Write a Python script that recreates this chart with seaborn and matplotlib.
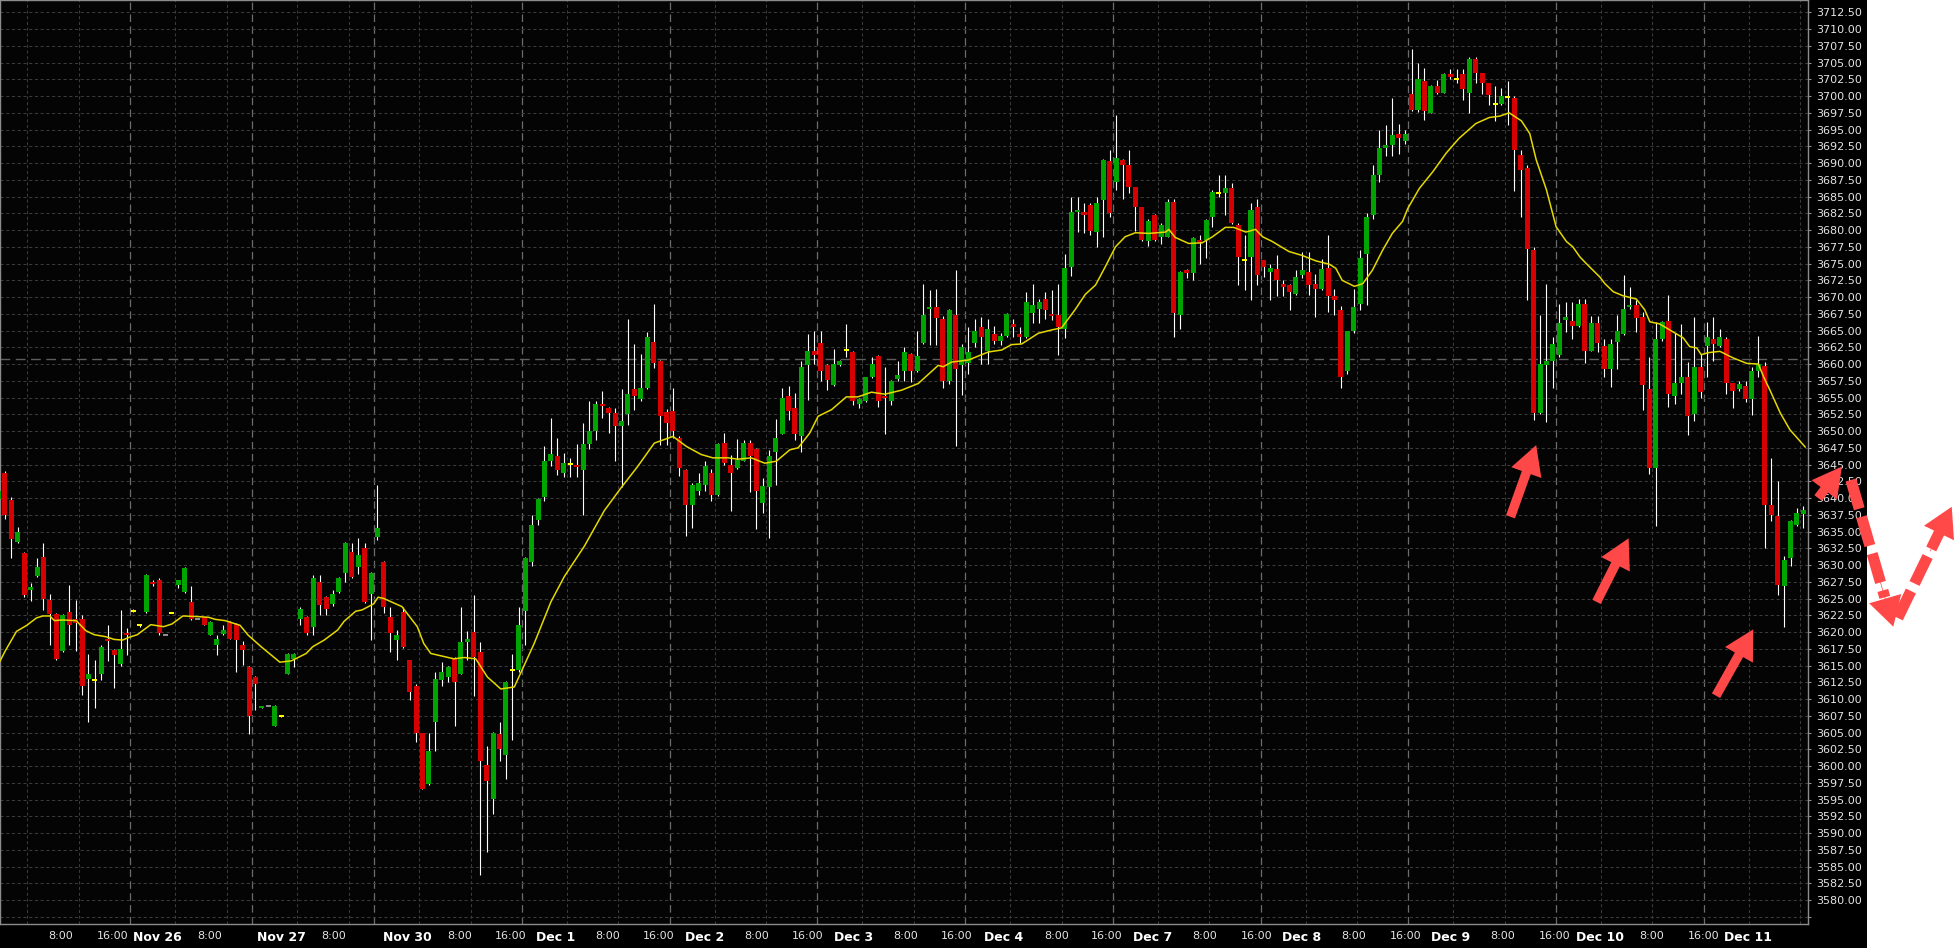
import matplotlib
matplotlib.use('Agg')

import numpy as np
import pandas as pd
import matplotlib.pyplot as plt
from matplotlib.patches import Rectangle
import seaborn as sns

# Hourly bars, Nov 25 (part) to Dec 11 (part), one value per bar
opens = [3639.9, 3643.7, 3639.7, 3633.4, 3631.8, 3626.3, 3628.3, 3631.2, 3624.8, 3622.7,
         3617.1, 3623.0, 3621.9, 3621.9, 3613.0, 3612.9, 3613.8, 3619.0, 3617.3, 3615.3,
         3619.8, 3623.2, 3621.0, 3623.0, 3627.5, 3627.8, 3619.6, 3622.9, 3627.0, 3626.0,
         3624.5, 3621.9, 3622.2, 3619.6, 3618.1, 3619.7, 3621.5, 3621.2, 3618.1, 3614.8,
         3613.3, 3608.6, 3608.9, 3606.0, 3607.4, 3613.8, 3616.0, 3622.0, 3622.3, 3620.8,
         3627.5, 3625.2, 3624.2, 3626.0, 3628.8, 3631.9, 3629.7, 3632.6, 3625.7, 3634.2,
         3630.5, 3622.2, 3618.8, 3623.0, 3615.8, 3612.0, 3604.9, 3597.3, 3606.6, 3612.8,
         3613.3, 3616.0, 3613.8, 3618.5, 3620.0, 3617.0, 3600.1, 3595.1, 3604.8, 3601.6,
         3614.4, 3614.4, 3623.1, 3630.5, 3636.7, 3640.1, 3645.5, 3646.3, 3643.8, 3645.1,
         3644.9, 3644.2, 3648.1, 3650.0, 3654.0, 3653.5, 3652.7, 3650.8, 3652.6, 3656.3,
         3654.8, 3656.5, 3663.3, 3660.5, 3652.9, 3653.0, 3649.0, 3644.2, 3639.0, 3641.1,
         3641.9, 3643.8, 3640.4, 3648.2, 3644.9, 3644.5, 3645.6, 3648.2, 3647.3, 3639.3,
         3641.6, 3646.8, 3649.6, 3655.2, 3653.5, 3649.3, 3659.8, 3662.0, 3663.2, 3659.9,
         3656.8, 3659.8, 3662.1, 3661.8, 3654.0, 3654.5, 3658.1, 3661.2, 3655.3, 3654.5,
         3657.8, 3659.0, 3661.5, 3658.9, 3663.1, 3668.2, 3668.5, 3666.7, 3657.5, 3667.3,
         3659.8, 3660.1, 3663.1, 3665.5, 3661.9, 3664.5, 3663.4, 3664.2, 3666.0, 3664.5,
         3664.1, 3667.6, 3668.2, 3669.7, 3667.5, 3667.3, 3665.2, 3674.5, 3682.7, 3682.7,
         3683.7, 3679.7, 3684.5, 3690.3, 3687.1, 3690.5, 3689.7, 3686.4, 3683.4, 3678.3,
         3682.3, 3679.0, 3679.0, 3684.2, 3667.3, 3674.0, 3673.6, 3678.5, 3678.5, 3681.9,
         3685.6, 3685.6, 3686.3, 3680.8, 3675.5, 3676.0, 3683.5, 3675.5, 3673.8, 3674.2,
         3671.9, 3671.8, 3670.5, 3673.3, 3673.7, 3671.9, 3671.2, 3674.4, 3670.1, 3668.1,
         3658.9, 3664.9, 3668.9, 3676.4, 3682.2, 3688.2, 3692.3, 3692.7, 3694.4, 3693.3,
         3700.3, 3697.9, 3702.2, 3697.5, 3701.5, 3700.5, 3703.3, 3702.5, 3703.3, 3700.5,
         3705.5, 3703.4, 3701.9, 3698.8, 3698.8, 3699.9, 3699.7, 3691.2, 3689.2, 3677.0,
         3652.7, 3659.9, 3660.5, 3661.3, 3666.6, 3666.4, 3665.7, 3669.0, 3662.0, 3666.2,
         3662.7, 3659.3, 3663.3, 3664.5, 3668.6, 3668.8, 3667.0, 3656.3, 3644.5, 3663.7,
         3666.5, 3655.3, 3657.1, 3658.0, 3652.5, 3659.5, 3662.7, 3663.7, 3662.7, 3663.7,
         3657.1, 3656.3, 3656.7, 3654.8, 3659.0, 3659.7, 3638.9, 3637.3, 3626.8, 3631.1,
         3636.0, 3637.6]
highs = [3641.5, 3644.0, 3640.1, 3635.7, 3632.0, 3627.3, 3631.1, 3633.3, 3625.7, 3622.8,
         3622.7, 3627.0, 3624.8, 3622.6, 3616.7, 3615.8, 3618.1, 3621.1, 3617.5, 3623.3,
         3620.6, 3623.4, 3621.2, 3628.6, 3627.8, 3628.0, 3619.6, 3623.0, 3627.8, 3629.7,
         3626.8, 3621.9, 3622.3, 3621.6, 3619.5, 3621.1, 3621.7, 3621.3, 3618.6, 3614.9,
         3613.5, 3608.9, 3608.9, 3609.1, 3607.5, 3616.8, 3616.8, 3623.8, 3622.4, 3628.5,
         3628.5, 3625.4, 3626.3, 3628.2, 3633.4, 3633.3, 3634.0, 3633.3, 3629.0, 3642.0,
         3630.6, 3623.8, 3620.3, 3623.8, 3615.9, 3612.2, 3605.0, 3605.0, 3614.0, 3615.6,
         3614.9, 3616.2, 3623.7, 3620.1, 3625.5, 3618.5, 3603.0, 3605.1, 3606.6, 3612.7,
         3616.7, 3623.8, 3631.2, 3637.5, 3640.0, 3647.8, 3651.9, 3648.9, 3646.7, 3646.0,
         3648.1, 3651.2, 3654.5, 3654.5, 3656.0, 3653.6, 3653.4, 3656.3, 3666.7, 3663.0,
         3661.5, 3664.8, 3669.0, 3660.6, 3653.3, 3656.4, 3649.2, 3644.3, 3642.3, 3643.7,
         3645.5, 3644.4, 3648.2, 3649.7, 3646.4, 3648.8, 3648.7, 3648.7, 3647.4, 3643.0,
         3647.1, 3651.8, 3656.4, 3656.7, 3655.7, 3660.5, 3664.5, 3664.9, 3664.9, 3660.0,
         3662.2, 3660.6, 3666.0, 3661.9, 3654.9, 3658.1, 3661.1, 3661.3, 3659.6, 3657.6,
         3660.5, 3662.5, 3661.6, 3665.0, 3672.0, 3671.1, 3671.2, 3667.1, 3668.2, 3674.0,
         3663.0, 3665.5, 3666.7, 3667.0, 3666.7, 3665.7, 3664.7, 3667.6, 3666.7, 3665.6,
         3670.7, 3672.0, 3669.7, 3670.7, 3671.0, 3672.0, 3676.4, 3684.9, 3684.9, 3684.1,
         3684.1, 3684.9, 3690.6, 3691.9, 3697.2, 3690.6, 3692.0, 3686.5, 3683.5, 3681.6,
         3682.4, 3681.0, 3684.7, 3684.7, 3673.9, 3674.2, 3679.0, 3679.3, 3681.6, 3686.0,
         3688.2, 3688.2, 3687.0, 3681.0, 3679.3, 3684.1, 3684.7, 3675.6, 3675.0, 3676.3,
         3672.5, 3672.0, 3674.0, 3676.7, 3676.7, 3673.4, 3675.7, 3679.3, 3671.2, 3668.6,
         3665.0, 3671.2, 3677.0, 3682.5, 3689.7, 3694.9, 3695.7, 3699.7, 3695.9, 3695.0,
         3707.0, 3705.0, 3704.2, 3701.6, 3702.4, 3703.4, 3704.1, 3704.1, 3704.1, 3705.8,
         3705.8, 3703.5, 3702.0, 3701.5, 3701.2, 3702.2, 3700.0, 3691.9, 3689.7, 3677.4,
         3667.3, 3671.9, 3664.0, 3669.0, 3669.3, 3669.3, 3669.7, 3669.7, 3667.1, 3667.1,
         3663.7, 3663.7, 3667.3, 3673.3, 3671.5, 3669.6, 3667.8, 3661.1, 3666.3, 3666.4,
         3670.3, 3664.6, 3666.0, 3660.3, 3667.0, 3661.5, 3666.3, 3667.0, 3665.2, 3664.0,
         3657.2, 3657.4, 3657.5, 3659.6, 3664.2, 3660.3, 3646.0, 3642.5, 3631.3, 3636.7,
         3638.5, 3638.8]
lows = [3639.5, 3636.9, 3631.0, 3633.3, 3625.3, 3624.7, 3628.2, 3623.3, 3618.0, 3615.8,
        3617.0, 3618.0, 3617.2, 3610.6, 3606.6, 3608.7, 3612.9, 3615.7, 3611.7, 3615.0,
        3616.6, 3623.0, 3620.8, 3622.9, 3626.9, 3619.6, 3619.6, 3622.8, 3626.6, 3625.9,
        3621.8, 3621.9, 3621.0, 3619.5, 3616.6, 3619.5, 3618.9, 3614.1, 3615.1, 3604.8,
        3608.4, 3608.6, 3608.9, 3605.9, 3607.3, 3613.7, 3614.8, 3621.1, 3619.6, 3619.6,
        3622.5, 3622.5, 3623.9, 3625.9, 3627.4, 3628.0, 3628.7, 3624.4, 3618.8, 3633.8,
        3622.9, 3617.0, 3615.8, 3617.6, 3609.9, 3603.6, 3596.5, 3597.2, 3602.2, 3611.9,
        3612.6, 3605.9, 3613.7, 3615.8, 3610.4, 3583.7, 3587.2, 3592.9, 3600.7, 3598.1,
        3603.9, 3614.0, 3618.1, 3629.8, 3636.0, 3639.6, 3644.8, 3643.5, 3643.2, 3643.2,
        3643.2, 3637.4, 3647.3, 3648.7, 3652.0, 3649.7, 3645.6, 3641.6, 3650.9, 3653.2,
        3654.5, 3656.3, 3659.4, 3647.9, 3647.9, 3649.0, 3643.3, 3634.4, 3635.6, 3640.5,
        3641.0, 3639.6, 3640.3, 3645.0, 3638.1, 3644.3, 3645.5, 3640.9, 3635.4, 3637.7,
        3634.1, 3641.9, 3649.5, 3651.7, 3648.7, 3646.9, 3654.6, 3660.0, 3657.4, 3656.1,
        3656.7, 3659.7, 3661.1, 3653.9, 3653.4, 3654.4, 3657.9, 3653.6, 3649.5, 3653.9,
        3657.5, 3657.5, 3657.3, 3658.8, 3663.0, 3662.8, 3662.8, 3656.4, 3657.0, 3647.7,
        3655.4, 3658.5, 3662.5, 3660.0, 3660.0, 3663.0, 3662.8, 3664.1, 3664.0, 3663.2,
        3663.9, 3666.2, 3666.2, 3666.7, 3666.6, 3661.4, 3663.9, 3673.2, 3679.7, 3679.5,
        3679.3, 3677.4, 3678.9, 3681.9, 3686.0, 3684.7, 3685.6, 3679.9, 3678.3, 3677.6,
        3678.3, 3677.9, 3678.9, 3664.1, 3665.3, 3672.9, 3672.6, 3674.9, 3675.9, 3680.4,
        3685.0, 3682.3, 3680.9, 3671.8, 3671.0, 3669.5, 3671.8, 3673.0, 3669.5, 3670.2,
        3670.2, 3668.1, 3670.3, 3672.9, 3670.3, 3667.0, 3671.0, 3667.7, 3667.3, 3656.4,
        3658.5, 3664.6, 3668.0, 3668.8, 3681.7, 3687.1, 3691.1, 3691.1, 3691.4, 3692.8,
        3697.7, 3697.6, 3696.5, 3697.4, 3700.3, 3700.4, 3702.5, 3702.0, 3699.4, 3697.4,
        3701.9, 3700.3, 3698.7, 3696.3, 3698.6, 3695.7, 3685.9, 3681.9, 3669.5, 3651.7,
        3652.6, 3651.4, 3656.4, 3661.0, 3664.8, 3663.8, 3665.6, 3660.2, 3661.9, 3661.8,
        3658.1, 3656.6, 3659.2, 3664.3, 3668.2, 3664.8, 3653.1, 3643.6, 3635.8, 3663.5,
        3653.6, 3654.0, 3655.6, 3649.4, 3651.5, 3655.0, 3658.1, 3660.4, 3662.5, 3655.5,
        3653.4, 3656.0, 3654.4, 3652.4, 3658.1, 3632.6, 3636.6, 3625.5, 3620.7, 3629.9,
        3635.9, 3635.6]
closes = [3641.0, 3637.4, 3633.9, 3635.0, 3625.5, 3626.7, 3629.7, 3625.0, 3622.7, 3616.0,
          3622.6, 3621.1, 3621.4, 3612.0, 3613.7, 3612.9, 3617.8, 3618.6, 3616.6, 3617.5,
          3619.5, 3623.2, 3621.0, 3628.5, 3627.2, 3619.8, 3619.6, 3622.9, 3627.8, 3629.6,
          3622.0, 3621.9, 3621.1, 3621.5, 3619.0, 3620.3, 3619.0, 3618.8, 3617.3, 3607.4,
          3612.3, 3608.9, 3608.9, 3609.0, 3607.4, 3616.7, 3616.7, 3623.5, 3619.8, 3628.1,
          3624.1, 3623.4, 3625.7, 3628.1, 3633.3, 3628.2, 3631.5, 3624.5, 3628.8, 3635.5,
          3623.8, 3619.8, 3619.6, 3617.7, 3611.1, 3605.0, 3596.6, 3602.3, 3613.0, 3614.0,
          3614.8, 3612.6, 3618.5, 3619.0, 3616.3, 3600.8, 3597.8, 3605.0, 3602.5, 3612.6,
          3614.4, 3621.1, 3631.1, 3636.0, 3639.9, 3645.5, 3646.6, 3644.2, 3645.2, 3645.1,
          3644.7, 3648.1, 3650.0, 3654.0, 3653.7, 3652.7, 3650.8, 3651.5, 3655.5, 3655.3,
          3656.4, 3664.1, 3660.1, 3652.3, 3651.2, 3650.0, 3644.5, 3638.9, 3641.9, 3642.3,
          3644.8, 3640.4, 3648.1, 3645.3, 3643.8, 3645.7, 3648.2, 3646.3, 3641.1, 3641.8,
          3646.3, 3649.0, 3655.0, 3653.0, 3649.6, 3659.6, 3662.0, 3661.3, 3659.0, 3657.6,
          3660.0, 3660.5, 3662.1, 3654.5, 3654.8, 3658.0, 3660.0, 3654.5, 3655.0, 3657.5,
          3658.3, 3661.8, 3658.9, 3661.2, 3667.3, 3668.5, 3666.8, 3657.4, 3668.1, 3659.3,
          3662.5, 3661.8, 3665.0, 3664.1, 3665.2, 3663.4, 3664.2, 3667.5, 3665.6, 3664.1,
          3669.3, 3668.8, 3669.3, 3668.1, 3667.1, 3665.6, 3674.4, 3682.7, 3683.0, 3682.3,
          3679.8, 3684.1, 3690.5, 3682.5, 3690.7, 3689.7, 3686.5, 3683.5, 3678.5, 3681.3,
          3678.5, 3680.8, 3684.2, 3667.6, 3673.8, 3673.6, 3678.8, 3678.3, 3681.5, 3685.7,
          3685.6, 3686.3, 3681.1, 3676.0, 3675.5, 3683.0, 3673.3, 3674.5, 3674.4, 3672.5,
          3671.5, 3670.8, 3673.0, 3674.0, 3671.8, 3671.2, 3674.2, 3670.1, 3669.6, 3658.1,
          3664.9, 3668.5, 3675.9, 3681.9, 3688.2, 3692.3, 3692.7, 3694.2, 3693.8, 3694.4,
          3697.9, 3702.5, 3697.8, 3701.5, 3700.5, 3703.3, 3702.8, 3702.5, 3701.1, 3705.5,
          3703.5, 3702.0, 3700.2, 3698.8, 3700.0, 3699.9, 3691.9, 3688.9, 3677.1, 3652.7,
          3660.0, 3660.5, 3663.0, 3666.2, 3667.0, 3665.7, 3669.0, 3662.0, 3666.2, 3663.1,
          3659.3, 3663.0, 3664.9, 3668.2, 3668.8, 3666.8, 3656.8, 3644.5, 3663.7, 3666.3,
          3655.6, 3657.1, 3658.0, 3652.3, 3659.5, 3655.8, 3664.0, 3663.0, 3664.0, 3657.1,
          3656.0, 3657.0, 3654.8, 3659.0, 3660.0, 3638.9, 3637.5, 3627.0, 3630.8, 3636.6,
          3637.7, 3638.2]

# yellow moving average line (bar position, price)
ma_bar = [0.2, 1.0, 2.8, 4.4, 5.9, 6.9, 8.0, 8.7, 10.0, 12.1,
          13.6, 14.9, 16.7, 18.0, 19.3, 20.3, 21.6, 23.7, 25.7, 27.0,
          28.7, 31.1, 32.7, 33.7, 35.3, 37.6, 38.9, 40.9, 43.8, 45.6,
          47.9, 48.9, 50.7, 52.8, 53.8, 55.6, 56.6, 58.4, 59.1, 60.0,
          62.8, 65.2, 66.2, 67.3, 70.9, 72.5, 74.3, 76.1, 78.2, 80.3,
          81.3, 83.4, 86.0, 88.1, 91.2, 94.3, 96.9, 99.5, 102.1, 105.0,
          107.1, 109.4, 111.2, 113.6, 115.1, 117.2, 119.3, 121.1, 123.2, 124.5,
          126.3, 127.6, 129.7, 132.0, 133.8, 135.9, 138.0, 140.6, 143.2, 146.3,
          147.1, 148.4, 151.0, 154.1, 156.2, 157.7, 159.3, 161.9, 164.0, 165.5,
          167.6, 169.2, 170.8, 172.3, 173.9, 175.4, 177.0, 179.1, 181.7, 182.2,
          183.2, 185.3, 187.4, 189.0, 191.0, 192.3, 194.2, 195.7, 196.8, 198.3,
          200.9, 203.0, 205.1, 207.2, 208.2, 209.2, 211.1, 212.4, 213.9, 215.5,
          217.0, 218.6, 219.4, 221.2, 223.3, 225.4, 227.4, 230.0, 232.1, 233.7,
          235.2, 237.1, 238.4, 239.4, 241.0, 242.5, 244.1, 245.1, 246.2, 247.2,
          249.3, 250.1, 251.4, 252.9, 255.0, 256.3, 257.1, 258.6, 260.2, 262.3,
          263.3, 264.4, 265.1, 266.2, 268.0, 270.1, 272.2, 274.0, 274.8, 275.8,
          277.4, 278.9, 281.3]
ma_val = [3615.6, 3617.1, 3620.1, 3621.0, 3622.1, 3622.4, 3622.4, 3621.7, 3621.8, 3621.7,
          3620.2, 3619.6, 3619.3, 3618.9, 3618.8, 3619.2, 3619.6, 3621.1, 3620.8, 3621.2,
          3622.4, 3622.3, 3622.2, 3621.9, 3621.7, 3621.0, 3619.5, 3617.8, 3615.5, 3615.7,
          3616.8, 3617.8, 3618.8, 3620.3, 3621.6, 3623.1, 3623.3, 3624.2, 3625.2, 3625.0,
          3623.8, 3620.8, 3618.3, 3616.8, 3616.0, 3616.2, 3616.0, 3613.3, 3611.5, 3611.8,
          3613.9, 3618.3, 3624.5, 3628.3, 3632.8, 3638.1, 3641.5, 3644.7, 3648.2, 3649.2,
          3647.7, 3646.5, 3646.0, 3646.0, 3645.8, 3646.0, 3645.2, 3645.5, 3647.2, 3647.5,
          3649.7, 3652.2, 3653.2, 3655.1, 3655.1, 3655.8, 3655.5, 3656.1, 3657.1, 3659.8,
          3659.6, 3660.3, 3660.6, 3661.8, 3662.1, 3662.9, 3663.0, 3664.6, 3665.1, 3665.4,
          3668.1, 3670.4, 3671.8, 3674.5, 3677.5, 3679.0, 3679.6, 3679.5, 3679.7, 3680.1,
          3678.9, 3678.0, 3678.1, 3679.0, 3680.4, 3680.4, 3679.7, 3680.1, 3679.0, 3678.3,
          3676.8, 3676.2, 3675.4, 3674.9, 3674.3, 3672.5, 3671.6, 3672.0, 3674.0, 3677.0,
          3679.5, 3681.3, 3683.2, 3686.2, 3688.7, 3691.5, 3693.7, 3695.9, 3696.8, 3697.0,
          3697.5, 3696.3, 3694.4, 3690.5, 3686.0, 3680.5, 3678.3, 3677.5, 3676.0, 3675.0,
          3673.0, 3672.0, 3670.8, 3670.2, 3669.7, 3668.1, 3666.3, 3666.0, 3665.1, 3663.9,
          3662.6, 3662.4, 3661.4, 3661.7, 3661.9, 3660.9, 3660.1, 3660.0, 3658.1, 3656.1,
          3652.7, 3650.2, 3647.6]

# session breaks (bar positions) and time-axis labels
session_starts = [-2.5, 20.5, 39.5, 58.5, 81.5, 104.5, 127.5, 150.5, 173.5, 196.5, 219.5, 242.5, 265.5]
tick_pos = [9.6, 17.7, 24.7, 32.8, 44.0, 52.2, 63.6, 71.8, 79.8, 86.8, 94.9, 102.8,
            110.0, 118.0, 125.9, 133.1, 141.3, 149.2, 156.5, 164.7, 172.5, 179.7,
            187.8, 195.9, 202.9, 211.0, 219.0, 226.1, 234.2, 242.2, 249.3, 257.4, 265.4, 272.4]
tick_text = ['8:00', '16:00', 'Nov 26', '8:00', 'Nov 27', '8:00', 'Nov 30', '8:00', '16:00',
             'Dec 1', '8:00', '16:00', 'Dec 2', '8:00', '16:00', 'Dec 3', '8:00', '16:00',
             'Dec 4', '8:00', '16:00', 'Dec 7', '8:00', '16:00', 'Dec 8', '8:00', '16:00',
             'Dec 9', '8:00', '16:00', 'Dec 10', '8:00', '16:00', 'Dec 11']
ref_price = 3660.75

# hand-drawn red arrows (bar position, price)
arrow_tails = [(235.4, 3637.2), (248.8, 3624.5), (267.4, 3610.5), (283.3, 3640.0)]
arrow_tips = [(239.4, 3647.9), (253.8, 3634.0), (273.2, 3620.4), (287.0, 3644.7)]
dashed_from = [(288.4, 3642.7), (295.7, 3622.1)]
dashed_to = [(295.0, 3620.8), (304.1, 3638.7)]

sns.set_theme(style='dark')
plt.rcParams['font.family'] = ['DejaVu Sans']

fig = plt.figure(figsize=(19.54, 9.48), dpi=100, facecolor='white')
fig.add_artist(Rectangle((0, 0), 1867 / 1954, 1, transform=fig.transFigure,
                         facecolor='black', edgecolor='none', zorder=-10))
ax = fig.add_axes([0, 24 / 948, 1808 / 1954, 924 / 948])
ax.set_facecolor('#040404')

# grid
for s in session_starts:
    ax.axvline(s, color='#6c6c6c', lw=0.9, ls=(0, (6, 3.5)), zorder=0.5)
    ax.axvline(s + 7, color='#3a3a3a', lw=0.75, ls=(0, (3, 2.5)), zorder=0.5)
    ax.axvline(s + 15, color='#3a3a3a', lw=0.75, ls=(0, (3, 2.5)), zorder=0.5)
ax.axhline(ref_price, color='#5e5e5e', lw=1.0, ls=(0, (7, 4)), zorder=0.6)

# candles
df = pd.DataFrame({'open': opens, 'high': highs, 'low': lows, 'close': closes})
df['bar'] = np.arange(len(df))
colour = np.where(df['close'] > df['open'], '#00a400', '#d60000')
colour = np.where(df['close'] == df['open'], '#ffff00', colour)
colour = np.where(df['high'] == df['low'], '#8e8e8e', colour)
min_h = 0.3
body_h = (df['close'] - df['open']).abs()
body_lo = np.where(body_h < min_h, (df['open'] + df['close']) / 2 - min_h / 2,
                   df[['open', 'close']].min(axis=1))
body_h = np.maximum(body_h, min_h)

ax.vlines(df['bar'], df['low'], df['high'], color='white', lw=0.8, zorder=2)
ax.bar(df['bar'], body_h, bottom=body_lo, width=0.78, color=colour, linewidth=0, zorder=3)

sns.lineplot(x=ma_bar, y=ma_val, ax=ax, color='#e4d800', linewidth=1.1, zorder=4)

ax.set_xlim(0.23, 281.72)
ax.set_ylim(3576.42, 3714.34)

yt = np.arange(3577.5, 3713.0, 2.5)
ax.set_yticks(yt)
ax.set_yticklabels(['' if v < 3579 else f'{v:.2f}' for v in yt])
ax.yaxis.tick_right()
ax.grid(True, axis='y', color='#3a3a3a', lw=0.75, ls=(0, (3, 2.5)))
ax.grid(False, axis='x')
ax.set_axisbelow(True)
ax.tick_params(axis='y', length=2.5, width=0.8, color='#909090', labelcolor='#e4e4e4',
               labelsize=8, pad=3.5)

ax.set_xticks(tick_pos)
ax.set_xticklabels(tick_text)
ax.tick_params(axis='x', length=0, pad=5, labelcolor='#e4e4e4', labelsize=8)
for lab in ax.get_xticklabels():
    if not lab.get_text()[0].isdigit():
        lab.set_fontweight('bold')
        lab.set_fontsize(9)
        lab.set_color('white')

for side in ['top', 'bottom', 'left', 'right']:
    ax.spines[side].set_color('#8c8c8c')
    ax.spines[side].set_linewidth(1.0)

# red annotation arrows
red = '#ff4848'
head = 'simple,head_length=2.1,head_width=2.3,tail_width=0.68'
for tail, tip in zip(arrow_tails, arrow_tips):
    ax.annotate('', xy=tip, xytext=tail, annotation_clip=False, zorder=10,
                arrowprops=dict(arrowstyle=head, mutation_scale=10, color=red, lw=0,
                                shrinkA=0, shrinkB=0))
for a, b in zip(dashed_from, dashed_to):
    a = np.array(a)
    b = np.array(b)
    end = a + 0.8 * (b - a)
    ax.plot([a[0], end[0]], [a[1], end[1]], color=red, lw=8, ls=(0, (2.7, 0.75)),
            dash_capstyle='butt', clip_on=False, zorder=10)
    start_head = a + 0.6 * (b - a)
    ax.annotate('', xy=tuple(b), xytext=tuple(start_head), annotation_clip=False, zorder=10,
                arrowprops=dict(arrowstyle='simple,head_length=2.1,head_width=2.4,tail_width=0.05',
                                mutation_scale=10, color=red, lw=0, shrinkA=0, shrinkB=0))

fig.savefig('out.png', dpi=100, facecolor=fig.get_facecolor())
